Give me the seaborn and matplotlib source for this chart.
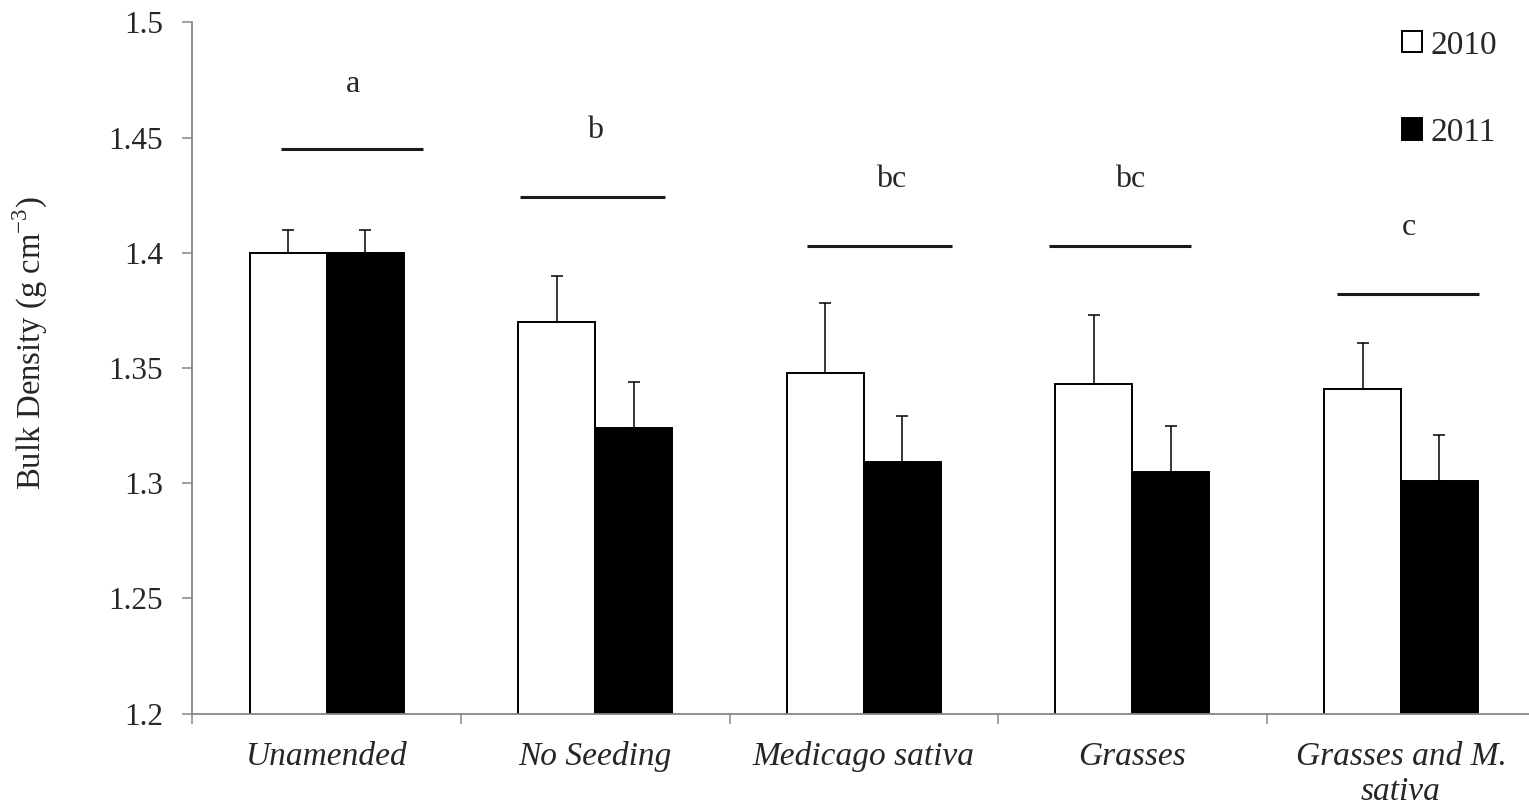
import numpy as np
import pandas as pd
import matplotlib
matplotlib.use("Agg")
import matplotlib.pyplot as plt
import seaborn as sns

# treatments and yearly bulk density means (g cm-3)
treatments = ["Unamended", "No Seeding", "Medicago sativa", "Grasses", "Grasses and M.\nsativa"]
years = ["2010", "2011"]
density_2010 = [1.400, 1.370, 1.348, 1.343, 1.341]
density_2011 = [1.400, 1.324, 1.309, 1.305, 1.301]
err_2010 = [0.010, 0.020, 0.030, 0.030, 0.020]
err_2011 = [0.010, 0.020, 0.020, 0.020, 0.020]

# significance letters over each treatment
letters = ["a", "b", "bc", "bc", "c"]
letter_y = [1.473, 1.453, 1.432, 1.432, 1.411]
line_y = [1.445, 1.424, 1.403, 1.403, 1.382]
line_start = [-0.17, -0.28, -0.21, -0.31, -0.24]
line_end = [0.36, 0.26, 0.33, 0.22, 0.29]
letter_shift = [0.10, 0.0, 0.10, -0.01, 0.03]

df = pd.DataFrame({
    "treatment": treatments * 2,
    "year": [years[0]] * 5 + [years[1]] * 5,
    "density": density_2010 + density_2011,
})

sns.set_theme(style="white")
plt.rcParams["font.family"] = ["Liberation Serif", "DejaVu Serif"]
plt.rcParams["mathtext.fontset"] = "custom"
plt.rcParams["mathtext.rm"] = "Liberation Serif"

grey = "#868686"
fs = 22

fig = plt.figure(figsize=(15.29, 8.07), dpi=100)
ax = fig.add_axes([192.3 / 1529, 93.3 / 807, 1343 / 1529, 691.4 / 807])

sns.barplot(
    data=df, x="treatment", y="density", hue="year",
    palette={"2010": "white", "2011": "black"},
    edgecolor="black", linewidth=1.4, width=0.573,
    errorbar=None, ax=ax,
)

# upward-only error bars
bars = list(ax.containers)[:2]
for cont, vals, errs in zip(bars, [density_2010, density_2011], [err_2010, err_2011]):
    xs = [b.get_x() + b.get_width() / 2 for b in cont]
    ax.errorbar(xs, vals, yerr=[np.zeros(len(errs)), errs], fmt="none",
                ecolor="black", elinewidth=1.1, capsize=4, capthick=1.1, zorder=5)

# letters and lines
for i, (lt, ly, yl, x0, x1, sh) in enumerate(zip(letters, letter_y, line_y, line_start, line_end, letter_shift)):
    ax.plot([i + x0, i + x1], [yl, yl], color="#1a1a1a", lw=2.2, solid_capstyle="butt")
    ax.text(i + sh, ly, lt, ha="center", va="center", fontsize=fs + 1)

ax.set_xlim(-0.5, 4.5)
ax.set_ylim(1.2, 1.5)

yt = np.arange(1.2, 1.5001, 0.05)
ax.set_yticks(yt)
ax.set_yticklabels([f"{v:g}" for v in np.round(yt, 2)], fontsize=fs + 0.5)
ax.tick_params(axis="y", direction="out", length=7, width=1.1, color=grey, pad=14, left=True)

ax.set_xticks(np.arange(-0.5, 5, 1))
ax.set_xticklabels([])
ax.set_xticks(range(5), minor=True)
ax.set_xticklabels(treatments, minor=True, fontsize=24, style="italic", linespacing=1.2)
ax.tick_params(axis="x", which="major", direction="out", length=7, width=1.1, color=grey, bottom=True)
ax.tick_params(axis="x", which="minor", length=0, pad=20)

ax.set_xlabel("")
ax.set_ylabel("Bulk Density (g cm$^{-3}$)", fontsize=23.5)
ax.yaxis.set_label_coords(-0.106, 0.536)

for s in ["top", "right"]:
    ax.spines[s].set_visible(False)
for s in ["left", "bottom"]:
    ax.spines[s].set_color(grey)
    ax.spines[s].set_linewidth(1.3)

handles, labels = ax.get_legend_handles_labels()
ax.legend(handles, labels, loc="upper right", bbox_to_anchor=(1497 / 1529, 1 - 30 / 807),
          bbox_transform=fig.transFigure, frameon=False, fontsize=24,
          handlelength=0.6, handleheight=0.6, handletextpad=0.25,
          labelspacing=1.7, borderpad=0, borderaxespad=0)

fig.savefig("out.png", dpi=100)
